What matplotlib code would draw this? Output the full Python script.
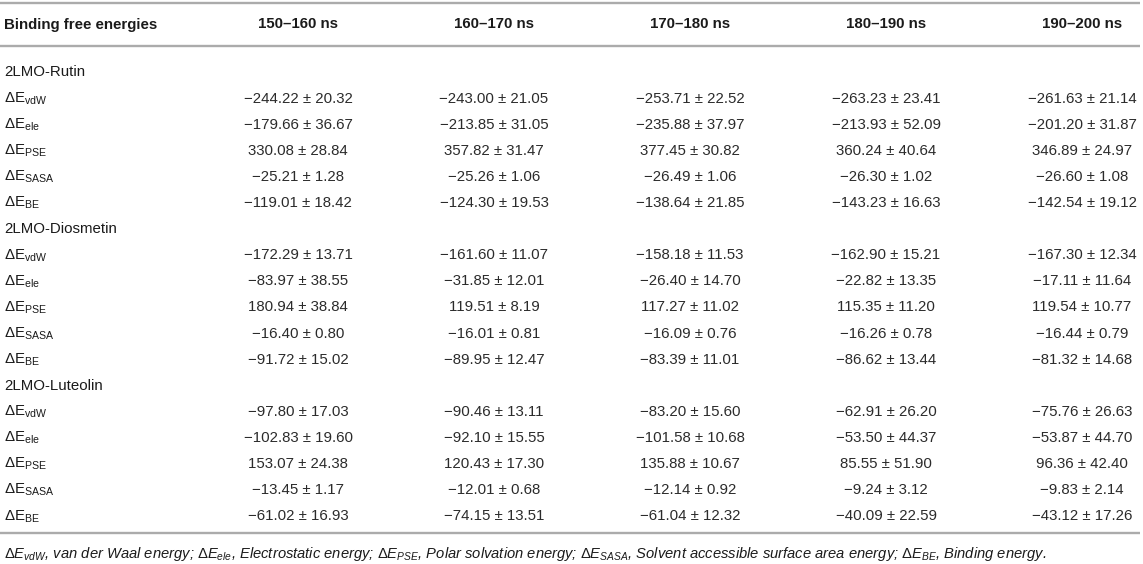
import matplotlib
matplotlib.use("Agg")
import matplotlib.pyplot as plt

plt.rcParams['font.family'] = ['Liberation Sans', 'DejaVu Sans']
plt.rcParams['mathtext.fontset'] = 'custom'
plt.rcParams['mathtext.rm'] = 'Liberation Sans'
plt.rcParams['mathtext.it'] = 'Liberation Sans:italic'
plt.rcParams['mathtext.bf'] = 'Liberation Sans:bold'

# ---------------- data ----------------
header_first = "Binding free energies"
periods = ["150–160 ns", "160–170 ns", "170–180 ns", "180–190 ns", "190–200 ns"]
groups = ["2LMO-Rutin", "2LMO-Diosmetin", "2LMO-Luteolin"]
terms = ["vdW", "ele", "PSE", "SASA", "BE"]

rutin_mean = [
    [-244.22, -243.00, -253.71, -263.23, -261.63],
    [-179.66, -213.85, -235.88, -213.93, -201.20],
    [330.08, 357.82, 377.45, 360.24, 346.89],
    [-25.21, -25.26, -26.49, -26.30, -26.60],
    [-119.01, -124.30, -138.64, -143.23, -142.54],
]
rutin_sd = [
    [20.32, 21.05, 22.52, 23.41, 21.14],
    [36.67, 31.05, 37.97, 52.09, 31.87],
    [28.84, 31.47, 30.82, 40.64, 24.97],
    [1.28, 1.06, 1.06, 1.02, 1.08],
    [18.42, 19.53, 21.85, 16.63, 19.12],
]
diosmetin_mean = [
    [-172.29, -161.60, -158.18, -162.90, -167.30],
    [-83.97, -31.85, -26.40, -22.82, -17.11],
    [180.94, 119.51, 117.27, 115.35, 119.54],
    [-16.40, -16.01, -16.09, -16.26, -16.44],
    [-91.72, -89.95, -83.39, -86.62, -81.32],
]
diosmetin_sd = [
    [13.71, 11.07, 11.53, 15.21, 12.34],
    [38.55, 12.01, 14.70, 13.35, 11.64],
    [38.84, 8.19, 11.02, 11.20, 10.77],
    [0.80, 0.81, 0.76, 0.78, 0.79],
    [15.02, 12.47, 11.01, 13.44, 14.68],
]
luteolin_mean = [
    [-97.80, -90.46, -83.20, -62.91, -75.76],
    [-102.83, -92.10, -101.58, -53.50, -53.87],
    [153.07, 120.43, 135.88, 85.55, 96.36],
    [-13.45, -12.01, -12.14, -9.24, -9.83],
    [-61.02, -74.15, -61.04, -40.09, -43.12],
]
luteolin_sd = [
    [17.03, 13.11, 15.60, 26.20, 26.63],
    [19.60, 15.55, 10.68, 44.37, 44.70],
    [24.38, 17.30, 10.67, 51.90, 42.40],
    [1.17, 0.68, 0.92, 3.12, 2.14],
    [16.93, 13.51, 12.32, 22.59, 17.26],
]
footnote = (r"$ΔE_{vdW}$, van der Waal energy; $ΔE_{ele}$, Electrostatic energy; "
            r"$ΔE_{PSE}$, Polar solvation energy; $ΔE_{SASA}$, Solvent accessible surface area energy; "
            r"$ΔE_{BE}$, Binding energy.")

means = [rutin_mean, diosmetin_mean, luteolin_mean]
sds = [rutin_sd, diosmetin_sd, luteolin_sd]

# ---------------- layout ----------------
W, H = 1143, 564
fig = plt.figure(figsize=(W / 100, H / 100), dpi=100)
ax = fig.add_axes([0, 0, 1, 1])
ax.set_xlim(0, W)
ax.set_ylim(H, 0)
ax.axis('off')

line_col = '#ababab'
txt_col = '#1a1a1a'
val_col = '#2b2b2b'
fs = 10.8

col_x = [298, 494, 690, 886, 1082]
label_x = 4
header_y = 23
row0 = 71
dy = 26.1
base_off = 5.5


def fmt(m, s):
    t = f"{m:.2f} ± {s:.2f}"
    return t.replace('-', '−')


for y in (3, 46, 533):
    ax.plot([0, 1140], [y, y], color=line_col, lw=1.7, solid_capstyle='butt')

ax.text(label_x, header_y + base_off, header_first, fontsize=fs, fontweight='bold',
        color=txt_col, ha='left', va='baseline')
for x, p in zip(col_x, periods):
    ax.text(x, header_y + base_off, p, fontsize=fs, fontweight='bold', color=txt_col,
            ha='center', va='baseline')

r = 0
for g, gname in enumerate(groups):
    y = row0 + r * dy
    ax.text(label_x, y + base_off, gname, fontsize=fs, color=txt_col,
            ha='left', va='baseline')
    r += 1
    for t, term in enumerate(terms):
        y = row0 + r * dy
        ax.text(label_x, y + base_off, "ΔE$_\\mathregular{%s}$" % term, fontsize=fs,
                color=txt_col, ha='left', va='baseline')
        for c, x in enumerate(col_x):
            ax.text(x, y + base_off, fmt(means[g][t][c], sds[g][t][c]), fontsize=fs,
                    color=val_col, ha='center', va='baseline')
        r += 1

ax.text(label_x, 553 + 5, footnote, fontsize=10.6, style='italic', color=txt_col,
        ha='left', va='baseline')

fig.savefig("out.png", dpi=100, facecolor='white')
